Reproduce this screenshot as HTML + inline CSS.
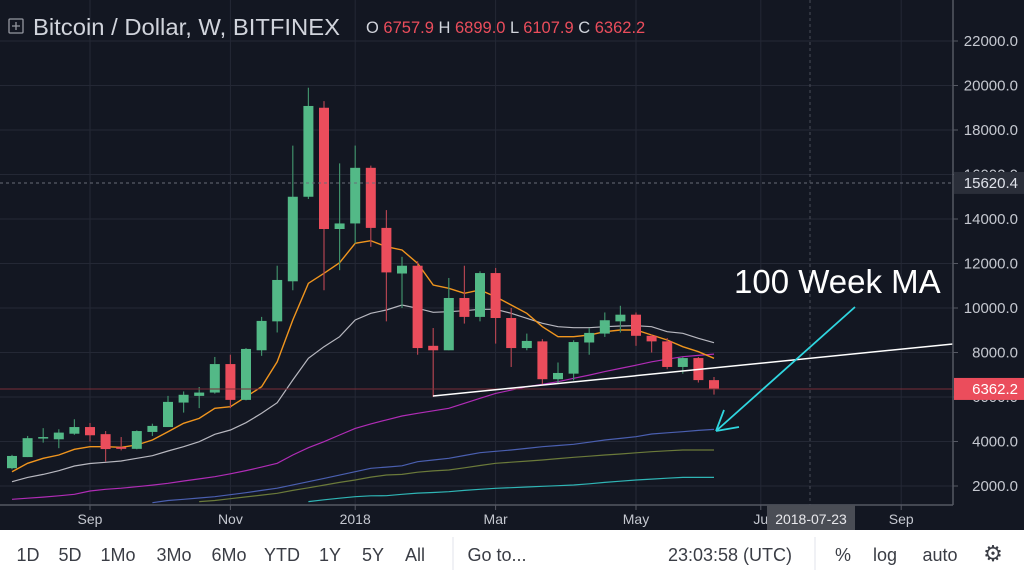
<!DOCTYPE html>
<html><head><meta charset="utf-8">
<style>
body{margin:0;width:1024px;height:576px;overflow:hidden;background:#131722;font-family:"Liberation Sans",sans-serif;}
svg{display:block}
</style></head>
<body>
<svg id="c" width="1024" height="576" viewBox="0 0 1024 576">
<rect x="0" y="0" width="1024" height="576" fill="#131722"/>
<g id="grid"></g>
<g id="mas"></g>
<g id="candles"></g>
<g id="overlay"></g>
<g id="axes"></g>
</svg>
<script>
const opens  =[2800,3300,4150,4100,4350,4650,4330,3750,3670,4430,4650,5750,6050,6200,7480,5870,8100,9400,11200,15000,19000,13550,13800,16300,13600,11550,11900,8300,8100,10450,9600,11570,9550,8200,8500,6800,7050,8450,8850,9400,9700,8750,8500,7350,7750,6757.9];
const highs  =[3400,4250,4600,4550,5000,4830,4470,4200,4500,4800,6050,6250,6450,7800,7900,8200,9600,11900,17300,19900,19300,16500,17300,16400,14400,12300,12100,9100,11350,11900,11650,11800,10000,8850,8600,7550,8550,9100,9800,10100,9800,8800,8650,7800,7800,6899.0];
const lows   =[2750,3300,3950,3700,4300,4000,3100,3600,3650,4250,4650,5300,5500,6150,5500,5850,7850,8900,10800,14900,10800,11700,12900,12750,9400,10000,7900,6000,8100,9300,9400,8400,7350,8100,6550,6600,6750,7900,8700,8900,8300,8000,7250,7050,6650,6107.9];
const closes =[3350,4150,4200,4400,4650,4280,3660,3670,4470,4700,5780,6100,6200,7480,5870,8160,9420,11260,15000,19080,13550,13800,16300,13600,11600,11900,8200,8100,10450,9600,11570,9550,8200,8520,6800,7080,8470,8880,9450,9700,8750,8500,7350,7750,6760,6362.2];
const ma10 =[2643,3020,3245,3393,3648,3767,3767,3738,3843,4067,4440,4817,5040,5490,5562,6011,6461,7584,9460,11110,11560,12036,12906,13025,12756,12607,12008,11034,10884,10659,10809,10509,10135,9760,9161,8712,8712,8787,8937,9011,9011,8787,8562,8262,8038,7738];
const ma20 =[2193,2387,2522,2687,2897,3013,3064,3124,3244,3363,3573,3767,3992,4322,4517,4846,5266,5745,6764,7738,8262,8712,9461,9760,9910,10135,9985,9805,9835,9880,9940,9940,9760,9536,9311,9161,9116,9116,9161,9191,9206,9161,8937,8862,8637,8442];
const ma50 =[1400,1450,1500,1560,1625,1775,1850,1900,1970,2040,2120,2225,2320,2420,2550,2690,2850,3020,3393,3722,3992,4290,4590,4790,4970,5146,5266,5380,5490,5715,5940,6164,6310,6461,6570,6686,6840,6986,7140,7286,7430,7584,7700,7809,7870,7930];
const ma100=[null,null,null,null,null,null,null,null,null,1250,1350,1400,1460,1520,1610,1700,1800,1900,2050,2193,2340,2490,2643,2795,2850,2910,3094,3170,3244,3370,3498,3560,3618,3690,3767,3820,3872,3970,4067,4140,4217,4337,4390,4440,4500,4545];
const ma150=[null,null,null,null,null,null,null,null,null,null,null,null,1300,1350,1430,1510,1590,1670,1800,1920,2040,2160,2270,2400,2494,2520,2620,2680,2720,2820,2920,3020,3070,3120,3170,3230,3290,3340,3393,3440,3490,3543,3580,3618,3618,3618];
const ma200=[null,null,null,null,null,null,null,null,null,null,null,null,null,null,null,null,null,null,null,1300,1380,1450,1520,1560,1565,1625,1680,1710,1745,1800,1850,1895,1925,1955,1985,2015,2045,2100,2160,2215,2270,2310,2350,2387,2387,2387];
const yTicks=[2000,4000,6000,8000,10000,12000,14000,16000,18000,20000,22000];
const xLabels=["Sep","Nov","2018","Mar","May","Ju","Sep"];
const xLabelIdx=[5,14,22,31,40,48,57];

const NS="http://www.w3.org/2000/svg";
function yv(v){return 41+(22000-v)*0.02225;}
function xi(i){return 12+i*15.6;}
function mk(tag,attrs,parent){const e=document.createElementNS(NS,tag);for(const k in attrs)e.setAttribute(k,attrs[k]);parent.appendChild(e);return e;}
const grid=document.getElementById('grid'),mas=document.getElementById('mas'),cg=document.getElementById('candles'),ov=document.getElementById('overlay'),ax=document.getElementById('axes');

yTicks.forEach(t=>{const l=mk('line',{x1:0,x2:953,y1:yv(t),y2:yv(t),stroke:'#242835','stroke-width':1},grid);

});
xLabelIdx.forEach(i=>{const l=mk('line',{x1:xi(i),x2:xi(i),y1:0,y2:505,stroke:'#242835','stroke-width':1},grid);

});

function line(arr,color,name,w){let d='';arr.forEach((v,i)=>{if(v==null)return;d+=(d?'L':'M')+xi(i).toFixed(1)+' '+yv(v).toFixed(1);});
const p=mk('path',{d:d,fill:'none',stroke:color,'stroke-width':w||1.2},mas);

}
line(ma200,'#2fb5b5','ma-200-line');
line(ma150,'#6b7a3a','ma-150-line');
line(ma100,'#4a5fb0','ma-100-line');
line(ma50,'#b02cb6','ma-50-line');
line(ma20,'#b8b8c0','ma-20-line');
line(ma10,'#f0951e','ma-10-line',1.4);

opens.forEach((o,i)=>{const c=closes[i],up=c>=o,col=up?'#53b987':'#eb4d5c';const x=xi(i);
const g=mk('g',{},cg);


mk('line',{x1:x,x2:x,y1:yv(highs[i]),y2:yv(lows[i]),stroke:up?'#3f8f6a':'#b04350','stroke-width':1.2},g);
const top=yv(Math.max(o,c)),bot=yv(Math.min(o,c));
mk('rect',{x:x-5,y:top,width:10,height:Math.max(1.5,bot-top),fill:col},g);});

let e;
e=mk('line',{x1:0,x2:953,y1:yv(15620.4),y2:yv(15620.4),stroke:'#6a6d78','stroke-dasharray':'3 3'},ov);


e=mk('line',{x1:810,x2:810,y1:0,y2:505,stroke:'#4a4d58','stroke-dasharray':'3 3'},ov);


e=mk('line',{x1:0,x2:953,y1:yv(6362.2),y2:yv(6362.2),stroke:'#7a2e38','stroke-width':1},ov);


e=mk('line',{x1:433,y1:396,x2:953,y2:344,stroke:'#ffffff','stroke-width':1.5},ov);


e=mk('path',{d:'M855 307 L716 431 M716 431 L739 427 M716 431 L724 410',stroke:'#2fd6e0','stroke-width':1.8,fill:'none'},ov);


e=mk('text',{x:734,y:293,fill:'#ffffff','font-size':33,'font-family':'Liberation Sans, sans-serif'},ov);
e.textContent='100 Week MA';



e=mk('rect',{x:0,y:505,width:1024,height:25,fill:'#131722'},ax);


e=mk('line',{x1:0,x2:953,y1:505,y2:505,stroke:'#555863','stroke-width':1.5},ax);


e=mk('line',{x1:953,x2:953,y1:0,y2:505,stroke:'#555863','stroke-width':1.5},ax);


yTicks.forEach(t=>{const y=yv(t);mk('line',{x1:953,x2:958,y1:y,y2:y,stroke:'#555863'},ax);
const tx=mk('text',{x:1018,y:y+5,'text-anchor':'end',fill:'#c5c8d0','font-size':15},ax);
tx.textContent=t.toFixed(1);

});
xLabels.forEach((s,k)=>{const x=xi(xLabelIdx[k]);mk('line',{x1:x,x2:x,y1:505,y2:510,stroke:'#555863'},ax);
const tx=mk('text',{x:x,y:524,'text-anchor':'middle',fill:'#c5c8d0','font-size':14},ax);
tx.textContent=s;

});
function plabel(v,bg,fg,name){const y=yv(v);const g=mk('g',{},ax);


mk('rect',{x:954,y:y-11,width:70,height:22,fill:bg},g);
const t=mk('text',{x:1018,y:y+5,'text-anchor':'end',fill:fg,'font-size':15},g);t.textContent=v.toFixed(1);}
plabel(15620.4,'#2a2e39','#e0e3eb','crosshair-price-label');
plabel(6362.2,'#eb4d5c','#ffffff','last-price-label');
e=mk('rect',{x:767,y:505,width:88,height:25,fill:'#4a4d55'},ax);


e=mk('text',{x:811,y:524,'text-anchor':'middle',fill:'#e8e8ec','font-size':14},ax);
e.textContent='2018-07-23';



e=mk('rect',{x:9,y:19,width:14,height:14,fill:'none',stroke:'#9598a1','stroke-width':1.3,rx:1},ax);


mk('path',{d:'M16 22 V30 M12 26 H20',stroke:'#9598a1','stroke-width':1.3},ax);
e=mk('text',{x:33,y:35,fill:'#d1d4dc','font-size':23,textLength:307,lengthAdjust:'spacingAndGlyphs'},ax);
e.textContent='Bitcoin / Dollar, W, BITFINEX';


e=mk('text',{x:366,y:33,'font-size':16.5,fill:'#d1d4dc'},ax);
e.innerHTML='O <tspan fill="#eb4d5c">6757.9</tspan> H <tspan fill="#eb4d5c">6899.0</tspan> L <tspan fill="#eb4d5c">6107.9</tspan> C <tspan fill="#eb4d5c">6362.2</tspan>';



e=mk('rect',{x:0,y:530,width:1024,height:46,fill:'#ffffff'},ax);


const tb=[['1D',28],['5D',70],['1Mo',118],['3Mo',174],['6Mo',229],['YTD',282],['1Y',330],['5Y',373],['All',415],['Go to...',497],['23:03:58 (UTC)',730],['%',843],['log',885],['auto',940]];
tb.forEach(([s,x])=>{const t=mk('text',{x:x,y:561,'text-anchor':'middle',fill:'#3a3d45','font-size':18},ax);t.textContent=s;

});
mk('line',{x1:453,x2:453,y1:537,y2:570,stroke:'#e0e3eb'},ax);
mk('line',{x1:815,x2:815,y1:537,y2:570,stroke:'#e0e3eb'},ax);
e=mk('text',{x:993,y:561,'text-anchor':'middle',fill:'#3a3d45','font-size':22},ax);
e.textContent='⚙';


</script>
</body></html>
